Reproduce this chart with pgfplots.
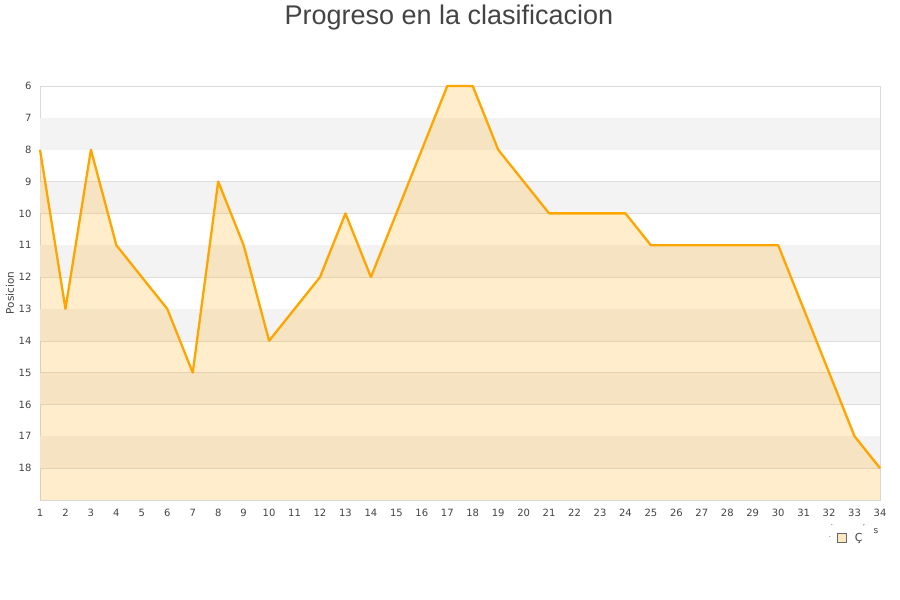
\documentclass[border=0pt]{standalone}
\usepackage{fontspec}
\setmainfont{DejaVu Sans}
\newfontfamily\titlefont{Liberation Sans}
\usepackage{pgfplots}
\pgfplotsset{compat=1.18}
\definecolor{lineor}{HTML}{FFA500}
\definecolor{band}{HTML}{F3F3F3}
\definecolor{txt}{HTML}{444444}
\begin{document}
\begin{tikzpicture}[x=1pt,y=1pt]
\path[use as bounding box] (0,0) rectangle (900,600);
\node[font=\titlefont\fontsize{27}{32}\selectfont, text=txt] at (449,582) {Progreso en la clasificacion};
\begin{axis}[at={(40pt,100pt)}, anchor=south west, scale only axis,
  width=840pt, height=414pt,
  xmin=1, xmax=34, ymin=6, ymax=19, y dir=reverse,
  xtick={1,...,34}, ytick={6,...,18},
  axis line style={draw=black!15},
  tick style={draw=none},
  ymajorgrids, grid style={black!13},
  ticklabel style={font=\fontsize{10}{12}\selectfont, text=txt},
  xticklabel style={yshift=-6pt},
  yticklabel style={xshift=-5pt},
  /pgf/number format/assume math mode=true,
  ylabel={Posicion}, ylabel style={font=\fontsize{10.5}{12}\selectfont, text=txt, at={(axis description cs:-0.0357,0.5)}, anchor=center},
  legend style={at={(axis description cs:0.9455,-0.092)}, anchor=west, draw=none, fill=none, font=\fontsize{11}{13}\selectfont, text=txt},
  legend image code/.code={\draw[#1] (0pt,-4.5pt) rectangle (9pt,4.5pt);},
  legend cell align=left,
  clip=false]
\pgfplotsinvokeforeach{7,9,11,13,15,17}{
  \fill[band] (axis cs:1,#1) rectangle (axis cs:34,#1+1);
}
\addplot[draw=none, fill=lineor, fill opacity=0.2, forget plot] coordinates {
(1,19) (1,8) (2,13) (3,8) (4,11) (5,12) (6,13) (7,15) (8,9) (9,11) (10,14)
(11,13) (12,12) (13,10) (14,12) (15,10) (16,8) (17,6) (18,6) (19,8) (20,9)
(21,10) (22,10) (23,10) (24,10) (25,11) (26,11) (27,11) (28,11) (29,11) (30,11)
(31,13) (32,15) (33,17) (34,18) (34,19)};
\addplot[color=lineor, line width=2.3pt, line join=round, forget plot] coordinates {
(1,8) (2,13) (3,8) (4,11) (5,12) (6,13) (7,15) (8,9) (9,11) (10,14)
(11,13) (12,12) (13,10) (14,12) (15,10) (16,8) (17,6) (18,6) (19,8) (20,9)
(21,10) (22,10) (23,10) (24,10) (25,11) (26,11) (27,11) (28,11) (29,11) (30,11)
(31,13) (32,15) (33,17) (34,18)};
\addlegendimage{draw=black!60, fill=lineor!25}
\addlegendentry{\hspace{6pt}Ç}
\end{axis}
\node[font=\fontsize{9}{10}\selectfont, text=txt] at (876,69) {s};
\node[font=\fontsize{7}{8}\selectfont, text=txt] at (864,73) {'};
\node[font=\fontsize{7}{8}\selectfont, text=txt] at (830,63) {.};
\node[font=\fontsize{7}{8}\selectfont, text=txt] at (832,75) {.};
\end{tikzpicture}
\end{document}
